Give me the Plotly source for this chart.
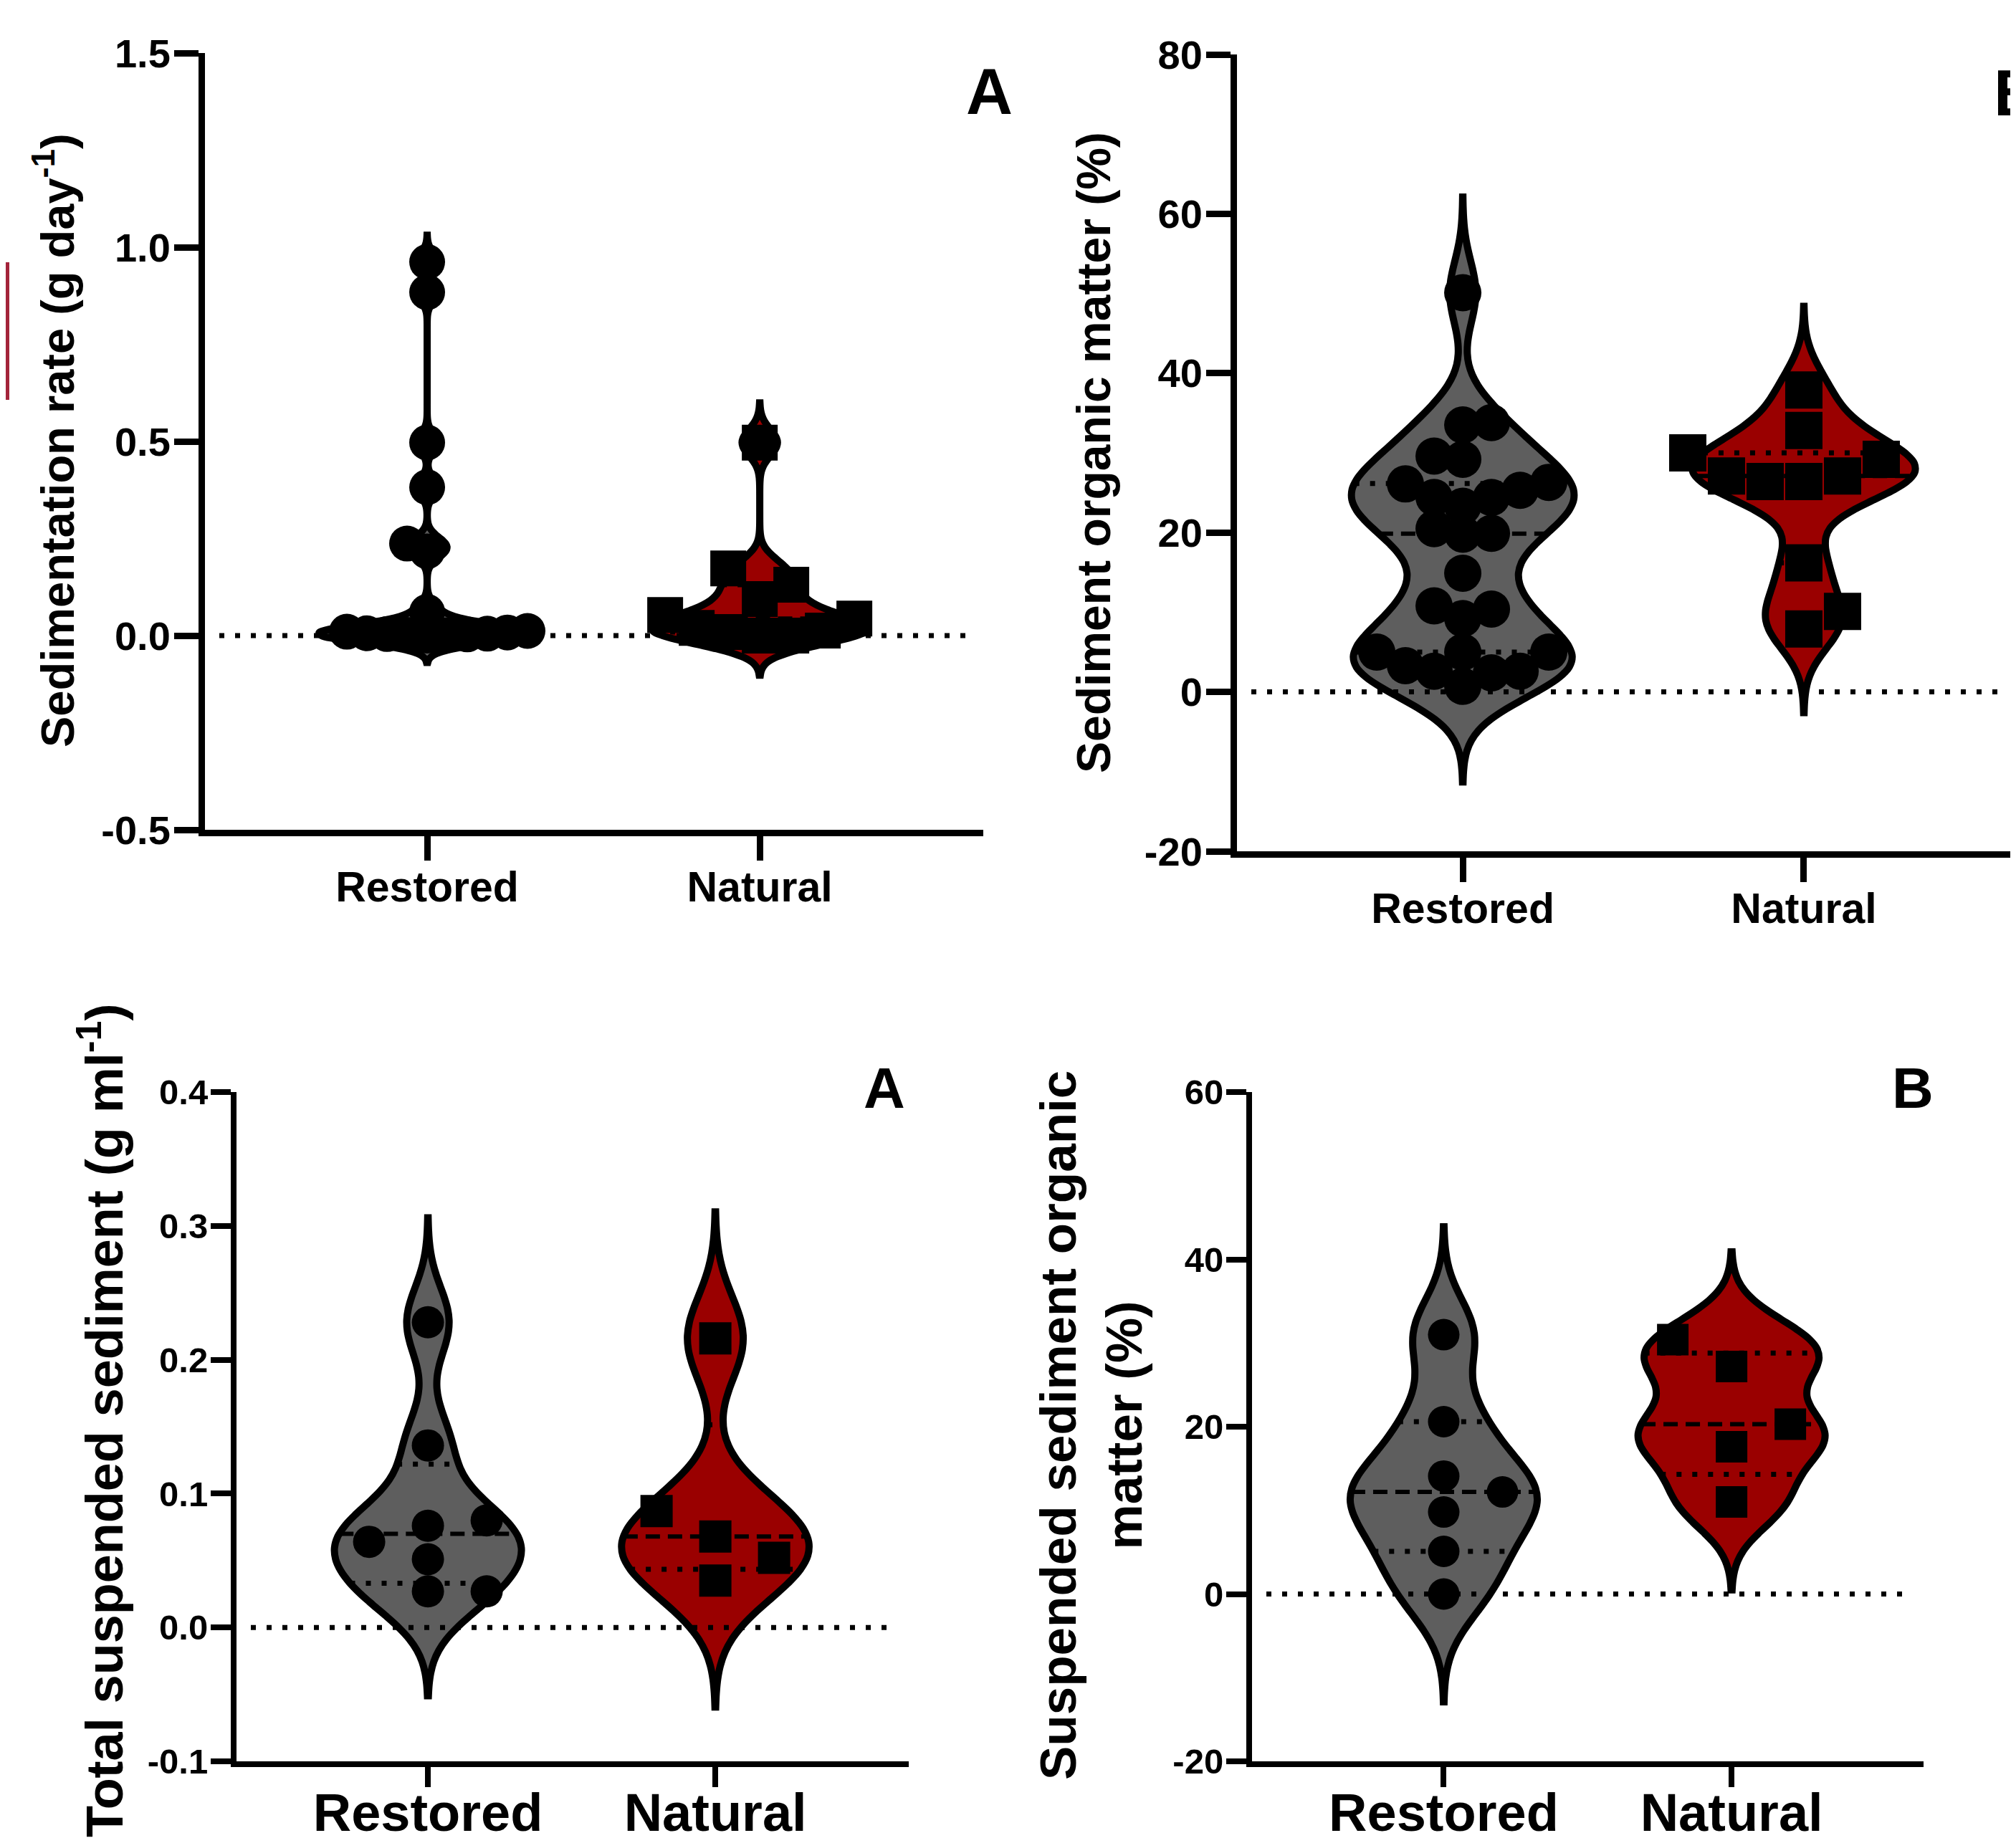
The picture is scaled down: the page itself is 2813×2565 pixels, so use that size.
import math
import plotly.graph_objects as go

W, H = 2813, 2565          # page size of the reference
OFF = 8                    # default browser body margin that offsets the plot div
FW, FH = W - OFF, H - OFF  # figure size so that it ends exactly at the page edge

categories = ["Restored", "Natural"]

# ---- Panel A (top-left): Sedimentation rate (g day-1)
sed_rate_restored = [0.962, 0.884, 0.497, 0.382, 0.237, 0.217, 0.061,
                     0.012, 0.010, 0.008, 0.006, 0.005, 0.004, 0.003, 0.002, 0.001, 0.000]
sed_rate_natural = [0.497, 0.173, 0.131, 0.094, 0.053, 0.044, 0.020, 0.013, 0.009, 0.000, 0.000]
sed_rate_ticks = [-0.5, 0.0, 0.5, 1.0, 1.5]
sed_rate_ticktext = ["-0.5", "0.0", "0.5", "1.0", "1.5"]

# ---- Panel B (top-right): Sediment organic matter (%)
som_restored = [50.1, 33.8, 33.5, 29.6, 29.2, 26.3, 26.1, 25.3, 24.4, 24.4, 23.3, 20.5, 19.9,
                19.8, 14.9, 10.8, 10.4, 9.2, 5.0, 5.0, 5.0, 3.3, 2.6, 2.6, 2.4, 0.7]
som_natural = [37.9, 32.8, 30.0, 29.2, 27.1, 27.1, 26.4, 26.4, 16.2, 10.1, 7.9]
som_ticks = [-20, 0, 20, 40, 60, 80]
som_ticktext = ["-20", "0", "20", "40", "60", "80"]

# ---- Panel A (bottom-left): Total suspended sediment (g ml-1)
tss_restored = [0.228, 0.136, 0.080, 0.076, 0.064, 0.051, 0.027, 0.027]
tss_natural = [0.216, 0.087, 0.068, 0.052, 0.035]
tss_ticks = [-0.1, 0.0, 0.1, 0.2, 0.3, 0.4]
tss_ticktext = ["-0.1", "0.0", "0.1", "0.2", "0.3", "0.4"]

# ---- Panel B (bottom-right): Suspended sediment organic matter (%)
ssom_restored = [31.0, 20.6, 14.1, 12.2, 9.8, 5.1, 0.0]
ssom_natural = [30.4, 27.2, 20.3, 17.6, 11.0]
ssom_ticks = [-20, 0, 20, 40, 60]
ssom_ticktext = ["-20", "0", "20", "40", "60"]

FONT = "Liberation Sans, Arial, Helvetica, sans-serif"
GRAY = "#5e5e5e"
RED = "#9a0000"
VW = 0.65   # violin width in x data units
TAIL = 3.0  # violin tails extend this many bandwidths past the data
VLW = 10    # violin outline width

panels = [
    dict(restored=sed_rate_restored, natural=sed_rate_natural, bw=(0.023, 0.034),
         xpx=(286, 1372), ypx=(74, 1158), xr=(-0.668, 1.672), yr=(-0.5, 1.5),
         ticks=sed_rate_ticks, ticktext=sed_rate_ticktext,
         lw=9, tlen=34, yfs=56, xfs=59, msize=50, step=(28, 44), coll=(28, 44),
         xso=-14, yso=-6),
    dict(restored=som_restored, natural=som_natural, bw=(4.0, 3.5),
         xpx=(1726, 2813), ypx=(76, 1188), xr=(-0.662, 1.622), yr=(-20, 80),
         ticks=som_ticks, ticktext=som_ticktext,
         lw=9, tlen=34, yfs=56, xfs=59, msize=52, step=(40, 54), coll=(38, 46),
         xso=-14, yso=-6),
    dict(restored=tss_restored, natural=tss_natural, bw=(0.026, 0.0315),
         xpx=(330, 1268), ypx=(1524, 2458), xr=(-0.666, 1.673), yr=(-0.1, 0.4),
         ticks=tss_ticks, ticktext=tss_ticktext,
         lw=8, tlen=28, yfs=49, xfs=74, msize=45, step=(82, 82), coll=(38, 38),
         xso=-28, yso=-6),
    dict(restored=ssom_restored, natural=ssom_natural, bw=(4.3, 3.5),
         xpx=(1747, 2684), ypx=(1524, 2458), xr=(-0.666, 1.667), yr=(-20, 60),
         ticks=ssom_ticks, ticktext=ssom_ticktext,
         lw=8, tlen=28, yfs=49, xfs=74, msize=44, step=(82, 82), coll=(38, 38),
         xso=-28, yso=-6),
]


def xf(px):
    return (px - OFF) / FW


def yf(px):
    return 1 - (px - OFF) / FH


def quantile(vals, p):
    s = sorted(vals)
    n = len(s)
    pos = (n + 1) * p
    if pos <= 1:
        return s[0]
    if pos >= n:
        return s[-1]
    lo = int(math.floor(pos))
    frac = pos - lo
    return s[lo - 1] + frac * (s[lo] - s[lo - 1])


def make_kde(vals, bw):
    n = len(vals)
    f = 1.0 / (n * bw * math.sqrt(2 * math.pi))
    return lambda t: f * sum(math.exp(-0.5 * ((t - v) / bw) ** 2) for v in vals)


def violin_span(vals, bw):
    return [min(vals) - TAIL * bw, max(vals) + TAIL * bw]


def max_kde(vals, bw):
    lo, hi = violin_span(vals, bw)
    dist = hi - lo
    n = math.ceil(dist / (bw / 3))
    step = dist / n
    kde = make_kde(vals, bw)
    return max(kde(lo + k * step) for k in range(n + 1))


def swarm(vals, ppu_y, step, coll):
    order = sorted(range(len(vals)), key=lambda i: vals[i])
    placed = []
    offs = [0.0] * len(vals)
    flip = 1
    for i in order:
        y = vals[i] * ppu_y
        k = 0
        chosen = None
        while chosen is None:
            cands = [0.0] if k == 0 else [flip * k * step, -flip * k * step]
            for c in cands:
                if all((c - px) ** 2 + (y - py) ** 2 >= coll ** 2 - 1e-6 for px, py in placed):
                    chosen = c
                    break
            k += 1
        if chosen > 0:
            flip = -1
        elif chosen < 0:
            flip = 1
        placed.append((chosen, y))
        offs[i] = chosen
    return offs


fig = go.Figure()
layout = dict(width=FW, height=FH, margin=dict(l=0, r=0, t=0, b=0, pad=0), autosize=False,
              paper_bgcolor="white", plot_bgcolor="rgba(0,0,0,0)", showlegend=False,
              violinmode="overlay")
shapes = []

for idx, p in enumerate(panels):
    sfx = "" if idx == 0 else str(idx + 1)
    xa, ya = "x" + sfx, "y" + sfx
    ppu_x = (p["xpx"][1] - p["xpx"][0]) / (p["xr"][1] - p["xr"][0])
    ppu_y = (p["ypx"][1] - p["ypx"][0]) / (p["yr"][1] - p["yr"][0])
    groups = [(0, p["restored"], GRAY, "circle", p["bw"][0], p["step"][0], p["coll"][0]),
              (1, p["natural"], RED, "square", p["bw"][1], p["step"][1], p["coll"][1])]
    # violins
    for pos, vals, col, sym, bw, st, co in groups:
        fig.add_trace(go.Violin(
            x0=pos, y=vals, xaxis=xa, yaxis=ya, width=VW, bandwidth=bw,
            spanmode="manual", span=violin_span(vals, bw),
            points=False, fillcolor=col, line=dict(color="black", width=VLW),
            box_visible=False, meanline_visible=False, hoverinfo="skip",
            orientation="v", scalemode="width"))
    # median & quartile lines
    for pos, vals, col, sym, bw, st, co in groups:
        kde = make_kde(vals, bw)
        mk = max_kde(vals, bw)
        for q, dash in ((0.25, "7px,15px"), (0.5, "20px,11px"), (0.75, "7px,15px")):
            yv = quantile(vals, q)
            hw = VW / 2 * kde(yv) / mk
            fig.add_trace(go.Scatter(
                x=[pos - hw, pos + hw], y=[yv, yv], xaxis=xa, yaxis=ya, mode="lines",
                line=dict(color="black", width=6 if q == 0.5 else 7, dash=dash),
                hoverinfo="skip"))
    # points
    for pos, vals, col, sym, bw, st, co in groups:
        offs = swarm(vals, ppu_y, st, co)
        fig.add_trace(go.Scatter(
            x=[pos + o / ppu_x for o in offs], y=vals, xaxis=xa, yaxis=ya, mode="markers",
            marker=dict(symbol=sym, size=p["msize"], color="black", line=dict(width=0)),
            hoverinfo="skip", cliponaxis=False))
    # axes
    xdom = [xf(p["xpx"][0]), min(1.0, xf(p["xpx"][1]))]
    ydom = [yf(p["ypx"][1]), yf(p["ypx"][0])]
    layout["xaxis" + sfx] = dict(
        domain=xdom, range=list(p["xr"]), anchor=ya, type="linear", automargin=False,
        tickvals=[0, 1], ticktext=categories, showline=True, linecolor="black",
        linewidth=p["lw"], ticks="outside", ticklen=p["tlen"], tickwidth=p["lw"],
        tickcolor="black", showgrid=False, zeroline=False, ticklabelstandoff=p["xso"],
        tickfont=dict(family=FONT, size=p["xfs"], color="black", weight="bold"))
    layout["yaxis" + sfx] = dict(
        domain=ydom, range=list(p["yr"]), anchor=xa, type="linear", automargin=False,
        tickvals=p["ticks"], ticktext=p["ticktext"], showline=True, linecolor="black",
        linewidth=p["lw"], ticks="outside", ticklen=p["tlen"], tickwidth=p["lw"],
        tickcolor="black", showgrid=False, zeroline=False, ticklabelstandoff=p["yso"],
        tickfont=dict(family=FONT, size=p["yfs"], color="black", weight="bold"))
    # dotted zero reference line
    span_px = p["xpx"][1] - p["xpx"][0]
    shapes.append(dict(type="line", xref=xa + " domain", yref=ya, x0=20 / span_px,
                       x1=1 - 18 / span_px, y0=0, y1=0, layer="above",
                       line=dict(color="black", width=7, dash="7px,15px")))

# red bar fragment at the left edge
shapes.append(dict(type="rect", xref="paper", yref="paper", x0=0, x1=5 / FW,
                   y0=yf(558), y1=yf(366), fillcolor="#a3243a", line=dict(width=0),
                   layer="above"))


def ann(text, xpx, ypx, size, angle=0, xanchor="center"):
    return dict(text=text, x=xf(xpx), y=yf(ypx), xref="paper", yref="paper",
                xanchor=xanchor, yanchor="middle", showarrow=False, textangle=angle,
                font=dict(family=FONT, size=size, color="black"))


annotations = [
    ann("<b>Sedimentation rate (g day<sup>-1</sup>)</b>", 76, 615, 65, -90),
    ann("<b>Sediment organic matter (%)</b>", 1526, 632, 66, -90),
    ann("<b>Total suspended sediment (g ml<sup>-1</sup>)</b>", 140, 1982, 72, -90),
    ann("<b>Suspended sediment organic<br>matter (%)</b>", 1523, 1989, 71, -90),
    ann("<b>A</b>", 1380, 128, 90),
    ann("<b>B</b>", 2780, 130, 90, 0, "left"),
    ann("<b>A</b>", 1234, 1518, 80),
    ann("<b>B</b>", 2669, 1518, 80),
]

layout["shapes"] = shapes
layout["annotations"] = annotations
fig.update_layout(**layout)
fig.write_html("out.html")
